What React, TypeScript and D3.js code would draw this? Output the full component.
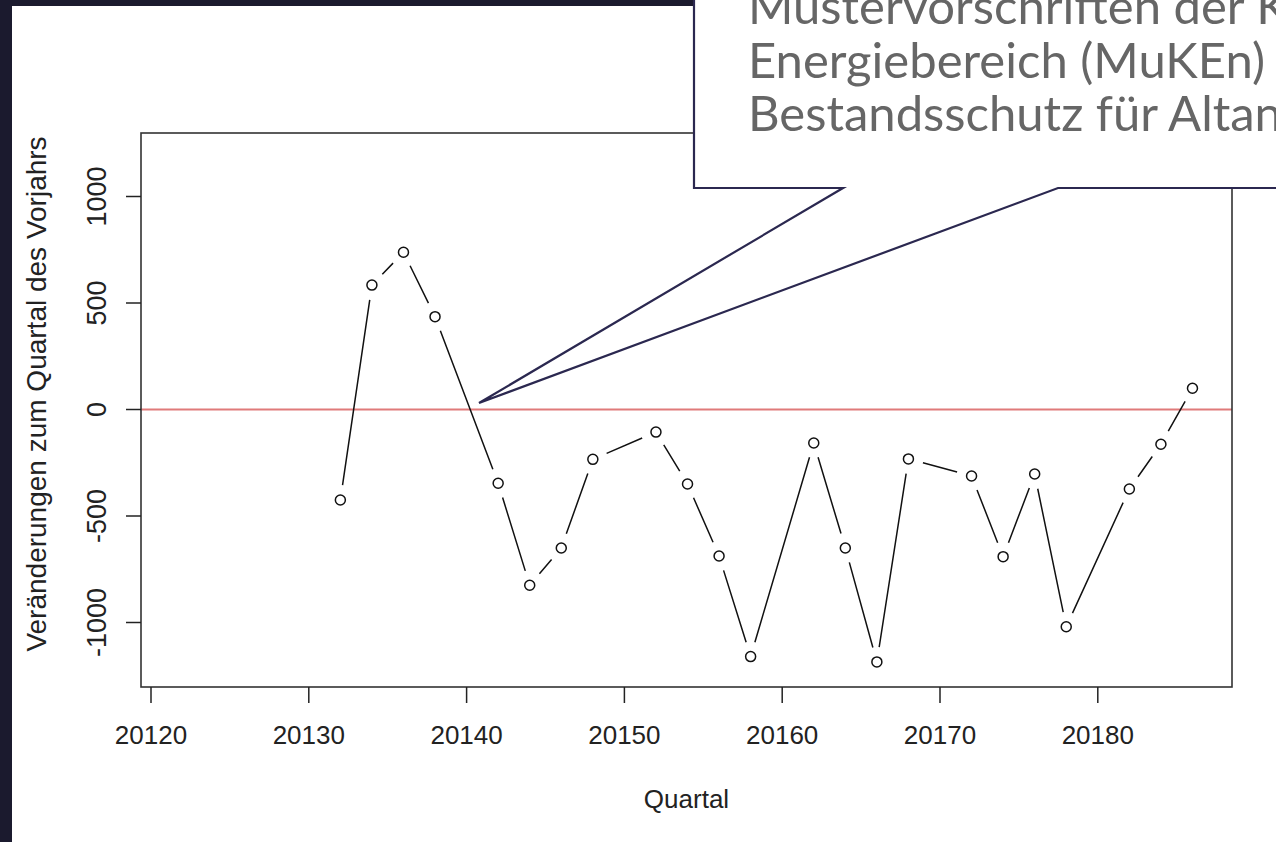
import React from "react";
import * as d3 from "d3";

const quarters = [20132, 20134, 20136, 20138, 20142, 20144, 20146, 20148, 20152, 20154, 20156, 20158, 20162, 20164, 20166, 20168, 20172, 20174, 20176, 20178, 20182, 20184, 20186];
const changes = [-425, 584, 738, 436, -346, -825, -650, -234, -106, -350, -688, -1160, -157, -650, -1185, -232, -312, -691, -303, -1020, -373, -163, 100];
const xTicks = [20120, 20130, 20140, 20150, 20160, 20170, 20180];
const yTicks = [-1000, -500, 0, 500, 1000];
const calloutLines = ["Mustervorschriften der Kantone im", "Energiebereich (MuKEn)", "Bestandsschutz für Altanlagen"];

const W = 1276;
const H = 842;
const plot = { left: 141, right: 1232, top: 133, bottom: 687 };

export default function App() {
  const x = d3.scaleLinear().domain([20120, 20180]).range([151, 1097.8]);
  const y = d3.scaleLinear().domain([0, 1000]).range([409.5, 196.5]);
  const pts = quarters.map((q, i) => [x(q), y(changes[i])] as [number, number]);
  const gap = 15;
  const segs: string[] = [];
  for (let i = 0; i < pts.length - 1; i++) {
    const [x1, y1] = pts[i];
    const [x2, y2] = pts[i + 1];
    const dx = x2 - x1, dy = y2 - y1;
    const L = Math.hypot(dx, dy);
    if (L <= 2 * gap) continue;
    const ux = dx / L, uy = dy / L;
    segs.push(`M${x1 + ux * gap},${y1 + uy * gap}L${x2 - ux * gap},${y2 - uy * gap}`);
  }
  const font = "'Liberation Sans', Arial, sans-serif";
  const tip = [479, 403];
  const calloutPath = `M694,-10 L694,188 L843,188 L${tip[0]},${tip[1]} L1058,188 L1300,188 L1300,-10 Z`;
  return (
    <div style={{ position: "fixed", left: 0, top: 0, width: W, height: H, background: "#fff" }}>
      <svg width={W} height={H} style={{ display: "block" }}>
        <rect x={0} y={0} width={W} height={H} fill="#ffffff" />
        <rect x={0} y={0} width={12} height={H} fill="#1b1a2e" />
        <rect x={0} y={0} width={W} height={6} fill="#1b1a2e" />
        {/* zero line */}
        <line x1={plot.left} x2={plot.right} y1={y(0)} y2={y(0)} stroke="#e07a7a" strokeWidth={2.2} />
        {/* data */}
        <path d={segs.join("")} stroke="#111" strokeWidth={1.5} fill="none" />
        {pts.map((p, i) => (
          <circle key={i} cx={p[0]} cy={p[1]} r={5} fill="none" stroke="#111" strokeWidth={1.5} />
        ))}
        {/* box */}
        <rect x={plot.left} y={plot.top} width={plot.right - plot.left} height={plot.bottom - plot.top} fill="none" stroke="#333" strokeWidth={1.6} />
        {/* x axis */}
        {xTicks.map((t) => (
          <g key={t}>
            <line x1={x(t)} x2={x(t)} y1={plot.bottom} y2={plot.bottom + 16} stroke="#222" strokeWidth={1.5} />
            <text x={x(t)} y={744} textAnchor="middle" fontFamily={font} fontSize={26} fill="#222">{t}</text>
          </g>
        ))}
        {/* y axis */}
        {yTicks.map((t) => (
          <g key={t}>
            <line x1={plot.left - 15} x2={plot.left} y1={y(t)} y2={y(t)} stroke="#222" strokeWidth={1.5} />
            <text transform={`translate(106,${y(t)}) rotate(-90)`} textAnchor="middle" fontFamily={font} fontSize={27} fill="#222">{t}</text>
          </g>
        ))}
        <text x={(plot.left + plot.right) / 2} y={808} textAnchor="middle" fontFamily={font} fontSize={26} fill="#222">Quartal</text>
        <text transform={`translate(46,394) rotate(-90)`} textAnchor="middle" fontFamily={font} fontSize={28} fill="#222">Veränderungen zum Quartal des Vorjahrs</text>
        {/* callout */}
        <path d={calloutPath} fill="#ffffff" stroke="#2b2850" strokeWidth={2.2} strokeLinejoin="miter" />
        {calloutLines.map((l, i) => (
          <text key={i} x={748} y={24 + i * 53.5} fontFamily="Lato, 'Open Sans', sans-serif" fontSize={49} fill="#666">{l}</text>
        ))}
      </svg>
    </div>
  );
}
